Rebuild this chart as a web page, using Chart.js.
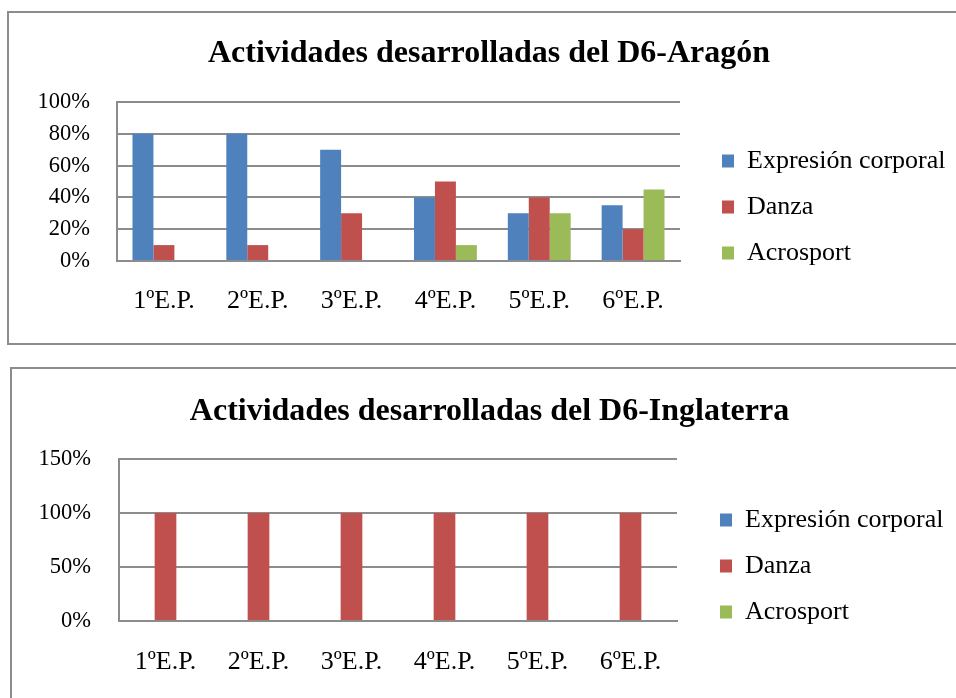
<!DOCTYPE html>
<html>
<head>
<meta charset="utf-8">
<script src="https://cdn.jsdelivr.net/npm/chart.js@4.4.1/dist/chart.umd.min.js"></script>
<style>
  html, body { margin: 0; padding: 0; background: #ffffff; width: 956px; height: 698px; overflow: hidden; position: relative; }
  .frame { position: absolute; border: 2px solid #8c8c8c; box-sizing: border-box; }
  canvas { position: absolute; }
</style>
</head>
<body>
<div class="frame" style="left:7px; top:11px; width:1000px; height:334px;"></div>
<div class="frame" style="left:10px; top:367px; width:1000px; height:400px;"></div>
<canvas id="c1" width="1000" height="345" style="left:0px; top:0px;"></canvas>
<canvas id="c2" width="1000" height="342" style="left:0px; top:356px;"></canvas>
<script>
// ---- Data ----
const categories = ['1ºE.P.', '2ºE.P.', '3ºE.P.', '4ºE.P.', '5ºE.P.', '6ºE.P.'];
const seriesNames = ['Expresión corporal', 'Danza', 'Acrosport'];
const seriesColors = ['#4F81BD', '#C0504D', '#9BBB59'];

const titleAragon = 'Actividades desarrolladas del D6-Aragón';
const aragonExpresion = [80, 80, 70, 40, 30, 35];
const aragonDanza = [10, 10, 30, 50, 40, 20];
const aragonAcrosport = [0, 0, 0, 10, 30, 45];
const aragonTicks = [0, 20, 40, 60, 80, 100];

const titleInglaterra = 'Actividades desarrolladas del D6-Inglaterra';
const inglaterraExpresion = [0, 0, 0, 0, 0, 0];
const inglaterraDanza = [100, 100, 100, 100, 100, 100];
const inglaterraAcrosport = [0, 0, 0, 0, 0, 0];
const inglaterraTicks = [0, 50, 100, 150];

// ---- Rendering ----
const FONT = "'Liberation Serif', 'Times New Roman', serif";
const GRID = '#8c8c8c';
const LEG_FONT = 26, LEG_BOX = 12, LEG_PAD = 20;
const CANVAS_W = 1000;

// width of the legend block (as Chart.js computes it) from the longest label
const mctx = document.createElement('canvas').getContext('2d');
mctx.font = LEG_FONT + "px " + FONT;
const legTextW = Math.max(...seriesNames.map(s => mctx.measureText(s).width));
const legendW = LEG_PAD + LEG_BOX + LEG_FONT / 2 + legTextW + 10;

function makeChart(id, cfg) {
  const series = [cfg.s1, cfg.s2, cfg.s3];
  const ticks = cfg.ticks;
  const legLeft = cfg.legBoxX - LEG_PAD;
  const rightEdge = legLeft + legendW;
  const padR = CANVAS_W - rightEdge;
  const padL = 2 * cfg.titleCX - rightEdge;
  const yW = cfg.plotL - padL;
  const gap = legLeft - cfg.plotR;
  return new Chart(document.getElementById(id), {
    type: 'bar',
    data: {
      labels: categories,
      datasets: series.map((d, i) => ({
        label: seriesNames[i],
        data: d,
        backgroundColor: seriesColors[i],
        borderWidth: 0,
        barPercentage: 1,
        categoryPercentage: cfg.catPct,
        yAxisID: 'y'
      }))
    },
    options: {
      responsive: false,
      animation: false,
      events: [],
      layout: { padding: { left: padL, right: padR, top: 0, bottom: 0 } },
      plugins: {
        title: {
          display: true,
          text: cfg.title,
          color: '#000',
          font: { family: FONT, size: 32, weight: 'bold', lineHeight: 1.2 },
          padding: { top: cfg.titleTop, bottom: cfg.titleBottom }
        },
        legend: {
          display: true,
          position: 'right',
          align: 'center',
          maxWidth: legendW + 0.5,
          title: { display: true, text: ' ', font: { size: 10, lineHeight: 1.2 }, padding: { top: cfg.legTitle - 12, bottom: 0 } },
          labels: {
            color: '#000',
            font: { family: FONT, size: LEG_FONT },
            boxWidth: LEG_BOX,
            boxHeight: 13,
            padding: LEG_PAD
          }
        },
        tooltip: { enabled: false }
      },
      scales: {
        x: {
          grid: { display: false, drawTicks: false },
          border: { display: true, color: GRID, width: 2 },
          ticks: { color: '#000', font: { family: FONT, size: 26, lineHeight: 1.2 }, padding: cfg.xPad, maxRotation: 0, autoSkip: false },
          afterFit: s => { s.height = cfg.xH; }
        },
        y: {
          min: ticks[0],
          max: ticks[ticks.length - 1],
          afterBuildTicks: s => { s.ticks = ticks.map(v => ({ value: v })); },
          grid: { color: GRID, lineWidth: 2, drawTicks: false },
          border: { display: true, color: GRID, width: 2 },
          ticks: { color: '#000', font: { family: FONT, size: 22.5 }, padding: cfg.yPad, callback: v => v + '%' },
          afterFit: s => { s.width = yW; }
        },
        y2: {
          position: 'right',
          display: true,
          grid: { display: false, drawTicks: false },
          border: { display: false },
          ticks: { display: false },
          afterFit: s => { s.width = gap; }
        }
      }
    }
  });
}

makeChart('c1', {
  title: titleAragon, s1: aragonExpresion, s2: aragonDanza, s3: aragonAcrosport, ticks: aragonTicks,
  catPct: 0.67, titleCX: 489, plotL: 117, plotR: 680, legBoxX: 722,
  titleTop: 34.8, titleBottom: 28.8, xH: 84, xPad: 24.4, yPad: 27, legTitle: 69
});
makeChart('c2', {
  title: titleInglaterra, s1: inglaterraExpresion, s2: inglaterraDanza, s3: inglaterraAcrosport, ticks: inglaterraTicks,
  catPct: 0.70, titleCX: 489.5, plotL: 119, plotR: 677, legBoxX: 720,
  titleTop: 36.8, titleBottom: 27.8, xH: 77, xPad: 25.4, yPad: 28, legTitle: 78
});
</script>
</body>
</html>
